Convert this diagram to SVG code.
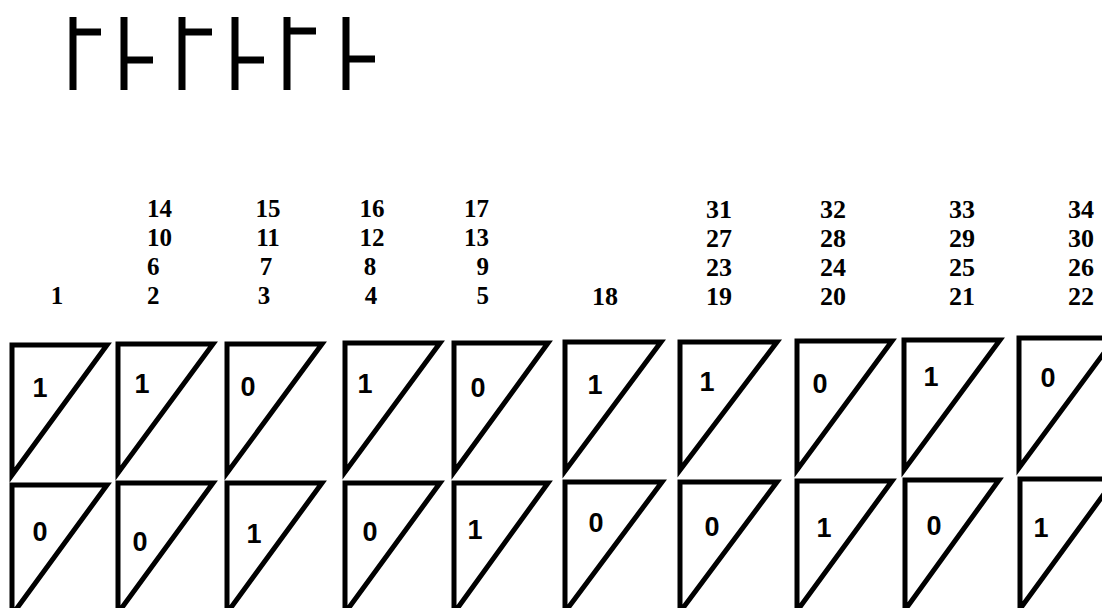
<svg xmlns="http://www.w3.org/2000/svg" width="1102" height="608" viewBox="0 0 1102 608">
<style>
.bar{stroke:#000;stroke-width:7;fill:none;stroke-linecap:butt}
.tri{fill:#fff;stroke:#000;stroke-width:5;stroke-linejoin:miter}
.num{font-family:"Liberation Serif","Times New Roman",serif;font-weight:bold;font-size:25px;fill:#000}
.numR{font-family:"Liberation Serif","Times New Roman",serif;font-weight:bold;font-size:26px;fill:#000}
.val{font-family:"Liberation Sans",Arial,sans-serif;font-weight:bold;font-size:27px;fill:#000;text-anchor:middle}
</style>
<rect width="1102" height="608" fill="#fff"/>
<g id="glyphs">
<path class="bar" d="M73 17V90M73 32H101"/>
<path class="bar" d="M124 17V90M124 60H153"/>
<path class="bar" d="M182 17V90M182 32H212"/>
<path class="bar" d="M235 17V90M235 60H264"/>
<path class="bar" d="M287 17V90M287 31H316"/>
<path class="bar" d="M346 17V90M346 59H375"/>
</g>
<g id="numbers">
<text class="num" x="147" y="217">14</text>
<text class="num" x="147" y="246">10</text>
<text class="num" x="147" y="275">6</text>
<text class="num" x="147" y="304">2</text>
<text class="num" x="57" y="304" text-anchor="middle">1</text>
<text class="num" x="268" y="217" text-anchor="middle">15</text>
<text class="num" x="268" y="246" text-anchor="middle">11</text>
<text class="num" x="266" y="275" text-anchor="middle">7</text>
<text class="num" x="264" y="304" text-anchor="middle">3</text>
<text class="num" x="372" y="217" text-anchor="middle">16</text>
<text class="num" x="372" y="246" text-anchor="middle">12</text>
<text class="num" x="370" y="275" text-anchor="middle">8</text>
<text class="num" x="371" y="304" text-anchor="middle">4</text>
<text class="num" x="489" y="217" text-anchor="end">17</text>
<text class="num" x="489" y="246" text-anchor="end">13</text>
<text class="num" x="489" y="275" text-anchor="end">9</text>
<text class="num" x="489" y="304" text-anchor="end">5</text>
<text class="numR" x="605" y="305" text-anchor="middle">18</text>
<text class="numR" x="719" y="218" text-anchor="middle">31</text>
<text class="numR" x="719" y="247" text-anchor="middle">27</text>
<text class="numR" x="719" y="276" text-anchor="middle">23</text>
<text class="numR" x="719" y="305" text-anchor="middle">19</text>
<text class="numR" x="833" y="218" text-anchor="middle">32</text>
<text class="numR" x="833" y="247" text-anchor="middle">28</text>
<text class="numR" x="833" y="276" text-anchor="middle">24</text>
<text class="numR" x="833" y="305" text-anchor="middle">20</text>
<text class="numR" x="962" y="218" text-anchor="middle">33</text>
<text class="numR" x="962" y="247" text-anchor="middle">29</text>
<text class="numR" x="962" y="276" text-anchor="middle">25</text>
<text class="numR" x="962" y="305" text-anchor="middle">21</text>
<text class="numR" x="1081" y="218" text-anchor="middle">34</text>
<text class="numR" x="1081" y="247" text-anchor="middle">30</text>
<text class="numR" x="1081" y="276" text-anchor="middle">26</text>
<text class="numR" x="1081" y="305" text-anchor="middle">22</text>
</g>
<g id="t1a"><path class="tri" d="M12 345H107L12 475Z"/><text class="val" x="40" y="397">1</text></g>
<g id="t2a"><path class="tri" d="M118 344H213L118 473Z"/><text class="val" x="142" y="393">1</text></g>
<g id="t3a"><path class="tri" d="M227 344H322L227 473Z"/><text class="val" x="248" y="396">0</text></g>
<g id="t4a"><path class="tri" d="M345 343H440L345 472Z"/><text class="val" x="365" y="393">1</text></g>
<g id="t5a"><path class="tri" d="M454 343H548L454 472Z"/><text class="val" x="478" y="397">0</text></g>
<g id="t6a"><path class="tri" d="M565 342H661L565 471Z"/><text class="val" x="595" y="394">1</text></g>
<g id="t7a"><path class="tri" d="M680 342H777L680 470Z"/><text class="val" x="707" y="391">1</text></g>
<g id="t8a"><path class="tri" d="M797 341H892L797 470Z"/><text class="val" x="820" y="393">0</text></g>
<g id="t9a"><path class="tri" d="M904 340H1000L904 470Z"/><text class="val" x="931" y="386">1</text></g>
<g id="t10a"><path class="tri" d="M1019 338H1115L1019 468Z"/><text class="val" x="1048" y="387">0</text></g>
<g id="t1b"><path class="tri" d="M12 485H107L12 615Z"/><text class="val" x="40" y="541">0</text></g>
<g id="t2b"><path class="tri" d="M118 483H213L118 613Z"/><text class="val" x="140" y="551">0</text></g>
<g id="t3b"><path class="tri" d="M227 483H322L227 613Z"/><text class="val" x="254" y="543">1</text></g>
<g id="t4b"><path class="tri" d="M345 483H440L345 613Z"/><text class="val" x="370" y="541">0</text></g>
<g id="t5b"><path class="tri" d="M454 483H548L454 613Z"/><text class="val" x="475" y="539">1</text></g>
<g id="t6b"><path class="tri" d="M565 482H662L565 612Z"/><text class="val" x="596" y="532">0</text></g>
<g id="t7b"><path class="tri" d="M680 482H777L680 612Z"/><text class="val" x="712" y="536">0</text></g>
<g id="t8b"><path class="tri" d="M797 481H892L797 611Z"/><text class="val" x="824" y="537">1</text></g>
<g id="t9b"><path class="tri" d="M905 480H999L905 610Z"/><text class="val" x="934" y="535">0</text></g>
<g id="t10b"><path class="tri" d="M1020 479H1115L1020 609Z"/><text class="val" x="1041" y="537">1</text></g>
</svg>
